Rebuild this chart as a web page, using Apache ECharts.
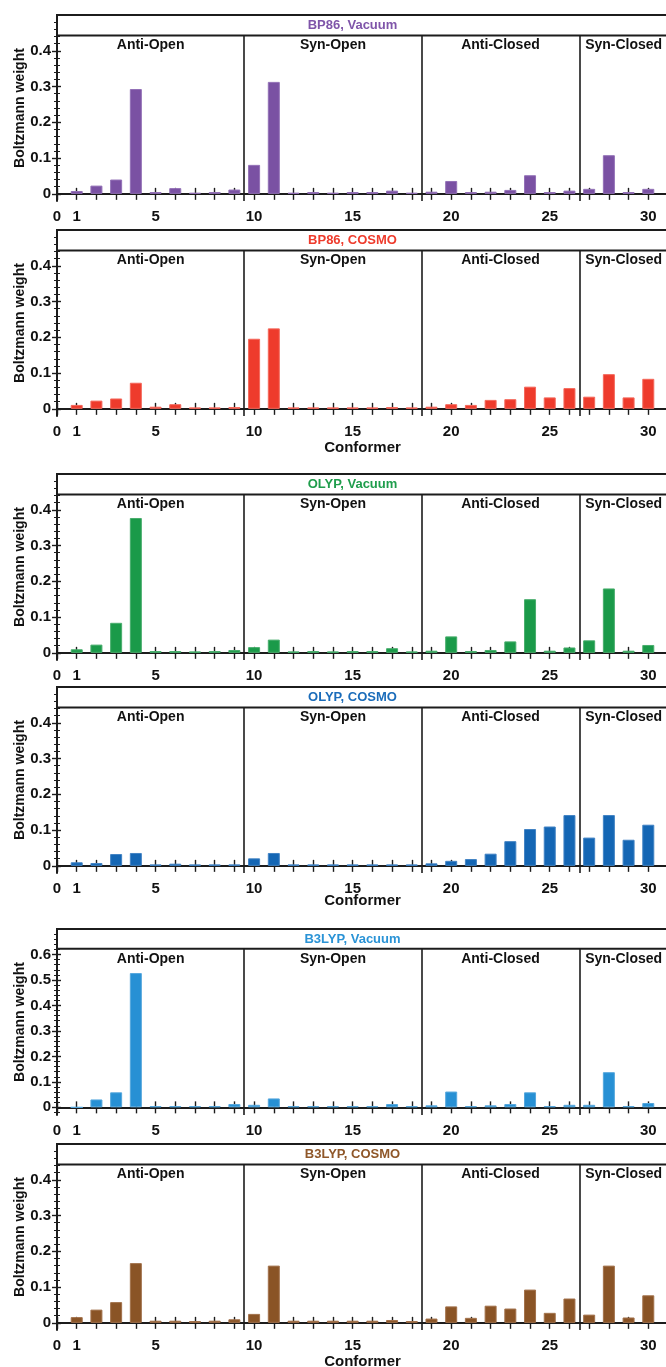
<!DOCTYPE html>
<html>
<head>
<meta charset="utf-8">
<script src="https://cdn.jsdelivr.net/npm/echarts@6/dist/echarts.min.js"></script>
<style>
  html, body { margin: 0; padding: 0; background: #ffffff; }
  #chart { width: 666px; height: 1367px; }
</style>
</head>
<body>
<div id="chart"></div>
<script>
// Conformer numbers on the x axis
const conformers = [1, 2, 3, 4, 5, 6, 7, 8, 9, 10, 11, 12, 13, 14, 15,
                    16, 17, 18, 19, 20, 21, 22, 23, 24, 25, 26, 27, 28, 29, 30];

// Conformer families and the x ranges they span
const groupNames = ['Anti-Open', 'Syn-Open', 'Anti-Closed', 'Syn-Closed'];
const groupBounds = [[0, 9.5], [9.5, 18.5], [18.5, 26.5], [26.5, 31]];

// Panel headings (method, solvent model)
const panelTitles = ['BP86, Vacuum', 'BP86, COSMO', 'OLYP, Vacuum',
                     'OLYP, COSMO', 'B3LYP, Vacuum', 'B3LYP, COSMO'];

// Boltzmann weights per conformer
const bp86Vacuum = [0.008, 0.023, 0.040, 0.293, 0.005, 0.016, 0.003, 0.005, 0.012,
                    0.081, 0.313, 0.003, 0.005, 0.003, 0.005, 0.005, 0.009, 0.003,
                    0.006, 0.036, 0.005, 0.006, 0.011, 0.052, 0.005, 0.009,
                    0.014, 0.108, 0.005, 0.014];
const bp86Cosmo  = [0.011, 0.023, 0.029, 0.073, 0.006, 0.013, 0.004, 0.004, 0.005,
                    0.196, 0.225, 0.004, 0.004, 0.004, 0.004, 0.004, 0.005, 0.004,
                    0.006, 0.013, 0.011, 0.025, 0.027, 0.062, 0.032, 0.058,
                    0.034, 0.097, 0.032, 0.084];
const olypVacuum = [0.010, 0.023, 0.084, 0.377, 0.005, 0.005, 0.004, 0.005, 0.008,
                    0.016, 0.037, 0.004, 0.005, 0.004, 0.005, 0.005, 0.013, 0.004,
                    0.006, 0.046, 0.005, 0.008, 0.032, 0.150, 0.006, 0.015,
                    0.035, 0.180, 0.006, 0.022];
const olypCosmo  = [0.010, 0.008, 0.033, 0.036, 0.004, 0.006, 0.004, 0.004, 0.004,
                    0.021, 0.036, 0.004, 0.004, 0.004, 0.004, 0.004, 0.004, 0.004,
                    0.007, 0.014, 0.019, 0.034, 0.069, 0.103, 0.110, 0.142,
                    0.079, 0.142, 0.073, 0.115];
const b3lypVacuum = [0.000, 0.031, 0.059, 0.527, 0.005, 0.005, 0.005, 0.005, 0.013,
                     0.010, 0.035, 0.005, 0.005, 0.005, 0.005, 0.005, 0.013, 0.005,
                     0.008, 0.062, 0.005, 0.008, 0.013, 0.059, 0.005, 0.010,
                     0.010, 0.138, 0.005, 0.017];
const b3lypCosmo  = [0.016, 0.037, 0.058, 0.167, 0.006, 0.006, 0.005, 0.006, 0.010,
                     0.025, 0.160, 0.006, 0.006, 0.006, 0.006, 0.006, 0.008, 0.005,
                     0.012, 0.046, 0.014, 0.048, 0.040, 0.093, 0.028, 0.068,
                     0.023, 0.160, 0.015, 0.077];

// Y tick labels per panel
const yTicksStd  = [0, 0.1, 0.2, 0.3, 0.4];
const yTicksWide = [0, 0.1, 0.2, 0.3, 0.4, 0.5, 0.6];

const panelValues = [bp86Vacuum, bp86Cosmo, olypVacuum, olypCosmo, b3lypVacuum, b3lypCosmo];
const barColors   = ['#7a51a3', '#ee3b2c', '#1a9a49', '#1466b4', '#2790d4', '#8a5426'];
const barEdges    = ['#9270b6', '#f4685b', '#48ad6c', '#4283c4', '#55a7dd', '#a2714b'];
const titleColors = ['#7f55a9', '#ee3b2c', '#1f9d4c', '#1a6cba', '#2a93d6', '#8f5729'];

// Layout of the six stacked panels
const panelTops   = [15, 230, 474, 687, 929, 1144];
const panelHeight = 186;
const yMins       = [-0.02, -0.02, -0.02, -0.02, -0.03, -0.02];
const yMaxs       = [0.5, 0.5, 0.5, 0.5, 0.7, 0.5];
const stripBottom = [0.443, 0.443, 0.443, 0.443, 0.622, 0.443];
const majorTicks  = [yTicksStd, yTicksStd, yTicksStd, yTicksStd, yTicksWide, yTicksStd];
const showXName   = [false, true, false, true, false, true];
const xNameGaps   = [24, 24, 24, 20, 24, 24];

const FONT = 'Liberation Sans, Arial, Helvetica, sans-serif';
const INK = '#1c1c1c';

function minorValues(min, max) {
  const out = [];
  for (let k = Math.ceil(min / 0.02 - 1e-9); k * 0.02 <= max + 1e-9; k++) {
    const v = +(k * 0.02).toFixed(3);
    if (Math.abs(v * 10 - Math.round(v * 10)) > 1e-6) out.push(v);
  }
  return out;
}

const grids = [], xAxes = [], yAxes = [], series = [];

panelTitles.forEach((title, i) => {
  grids.push({
    left: 57, width: 611, top: panelTops[i], height: panelHeight,
    outerBoundsMode: 'none', containLabel: false
  });

  const xBase = {
    type: 'value', gridIndex: i, min: 0, max: 31, interval: 1, position: 'bottom',
    splitLine: { show: false }
  };
  xAxes.push(Object.assign({}, xBase, {
    axisLine: { show: true, lineStyle: { color: INK, width: 2 } },
    axisTick: { show: true, length: 6, lineStyle: { color: INK, width: 1.4 } },
    axisLabel: {
      margin: 8, color: '#111', fontSize: 15, fontWeight: 'bold', fontFamily: FONT,
      formatter: v => (v === 0 || v === 1 || (v % 5 === 0 && v <= 30)) ? String(v) : ''
    },
    name: showXName[i] ? 'Conformer' : '',
    nameLocation: 'middle', nameGap: xNameGaps[i], nameMoveOverlap: false,
    nameTextStyle: { color: '#111', fontSize: 15, fontWeight: 'bold', fontFamily: FONT }
  }));
  xAxes.push(Object.assign({}, xBase, {
    axisLine: { show: false },
    axisTick: { show: true, inside: true, length: 6, lineStyle: { color: INK, width: 1.4 } },
    axisLabel: { show: false }
  }));

  const yBase = {
    type: 'value', gridIndex: i, min: yMins[i], max: yMaxs[i], position: 'left',
    splitLine: { show: false }
  };
  const minors = minorValues(yMins[i] + 0.001, yMaxs[i] - 0.001);
  yAxes.push(Object.assign({}, yBase, {
    axisLine: { show: true, lineStyle: { color: INK, width: 2 } },
    axisTick: { show: true, length: 5, customValues: majorTicks[i], lineStyle: { color: INK, width: 1.4 } },
    axisLabel: {
      customValues: majorTicks[i], margin: 6, color: '#111',
      fontSize: 15, fontWeight: 'bold', fontFamily: FONT,
      formatter: v => v === 0 ? '0' : (+v).toFixed(1)
    },
    name: 'Boltzmann weight', nameLocation: 'middle', nameGap: 30, nameMoveOverlap: false,
    nameTextStyle: { color: '#111', fontSize: 14, fontWeight: 'bold', fontFamily: FONT }
  }));
  yAxes.push(Object.assign({}, yBase, {
    axisLine: { show: false },
    axisTick: { show: true, inside: true, length: 4, customValues: majorTicks[i], lineStyle: { color: INK, width: 1.4 } },
    axisLabel: { show: false }
  }));
  yAxes.push(Object.assign({}, yBase, {
    axisLine: { show: false },
    axisTick: { show: true, length: 3, customValues: minors, lineStyle: { color: INK, width: 1 } },
    axisLabel: { show: false }
  }));
  yAxes.push(Object.assign({}, yBase, {
    axisLine: { show: false },
    axisTick: { show: true, inside: true, length: 3, customValues: minors, lineStyle: { color: INK, width: 1 } },
    axisLabel: { show: false }
  }));

  const sb = stripBottom[i];
  const areaData = [[
    {
      coord: [0, sb],
      itemStyle: { color: '#ffffff', borderColor: INK, borderWidth: 2 },
      label: {
        show: true, position: 'inside', offset: [-10, 0], formatter: title,
        color: titleColors[i], fontSize: 13, fontWeight: 'bold', fontFamily: FONT
      }
    },
    { coord: [31, yMaxs[i]] }
  ]];
  groupNames.forEach((g, k) => {
    areaData.push([
      {
        coord: [groupBounds[k][0], sb],
        itemStyle: { color: 'rgba(0,0,0,0)', borderWidth: 0 },
        label: {
          show: true, position: 'insideTop', distance: 3, formatter: g,
          color: '#111', fontSize: 14, fontWeight: 'bold', fontFamily: FONT
        }
      },
      { coord: [groupBounds[k][1], sb - 0.05] }
    ]);
  });

  const sepData = groupBounds.slice(1).map(b => [
    { coord: [b[0], yMins[i]] },
    { coord: [b[0], sb] }
  ]);

  series.push({
    type: 'bar',
    xAxisIndex: 2 * i,
    yAxisIndex: 4 * i,
    barWidth: 12,
    itemStyle: { color: barColors[i], borderColor: barEdges[i], borderWidth: 1 },
    data: panelValues[i].map((v, k) => [conformers[k], v]),
    markArea: { silent: true, data: areaData },
    markLine: {
      silent: true, symbol: 'none',
      lineStyle: { color: INK, width: 1.6, type: 'solid' },
      label: { show: false },
      data: sepData
    }
  });
});

const chart = echarts.init(document.getElementById('chart'), null, { renderer: 'canvas' });
chart.setOption({
  backgroundColor: '#ffffff',
  animation: false,
  grid: grids,
  xAxis: xAxes,
  yAxis: yAxes,
  series: series
});
</script>
</body>
</html>
